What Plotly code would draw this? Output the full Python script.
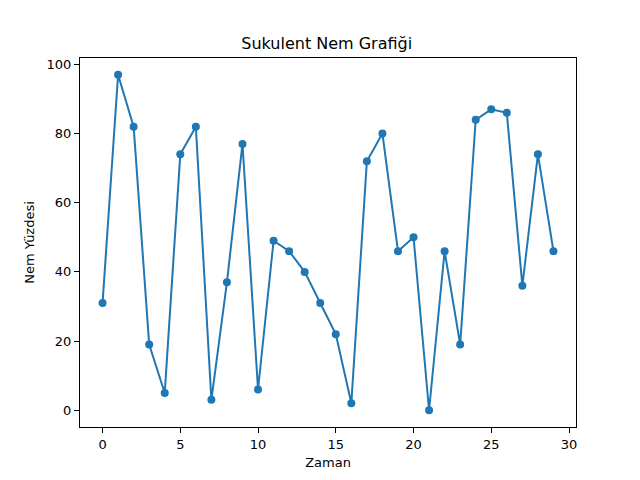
import plotly.graph_objects as go

zaman = list(range(30))
nem = [31, 97, 82, 19, 5, 74, 82, 3, 37, 77, 6, 49, 46, 40, 31, 22, 2, 72, 80, 46,
       50, 0, 46, 19, 84, 87, 86, 36, 74, 46]
x_ticks = [0, 5, 10, 15, 20, 25, 30]
y_ticks = [0, 20, 40, 60, 80, 100]

fig = go.Figure(go.Scatter(
    x=zaman, y=nem, mode="lines+markers",
    line=dict(color="#1f77b4", width=2),
    marker=dict(color="#1f77b4", size=8),
))

axis_common = dict(
    showgrid=False, zeroline=False, showline=True, linecolor="black", linewidth=1,
    mirror=True, ticks="outside", ticklen=5, tickwidth=1, tickcolor="black",
    tickfont=dict(family="DejaVu Sans", size=13, color="black"),
)
fig.update_xaxes(range=[-1.45, 30.45], tickvals=x_ticks,
                 title=dict(text="Zaman", font=dict(family="DejaVu Sans", size=13, color="black"), standoff=7),
                 **axis_common)
fig.update_yaxes(range=[-4.85, 101.85], tickvals=y_ticks,
                 title=dict(text="Nem Yüzdesi", font=dict(family="DejaVu Sans", size=13, color="black"), standoff=9),
                 **axis_common)

fig.update_layout(
    width=640, height=480,
    margin=dict(l=72, r=72, t=50, b=61),
    paper_bgcolor="white", plot_bgcolor="white",
    showlegend=False,
    title=dict(text="Sukulent Nem Grafiği", x=0.498, xanchor="center", y=0.927, yanchor="middle",
               font=dict(family="DejaVu Sans", size=16, color="black")),
)

fig.write_html("out.html")
